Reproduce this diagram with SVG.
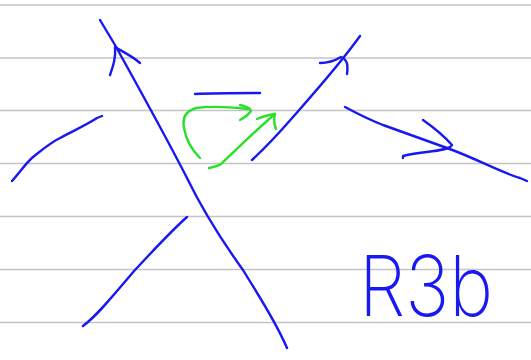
<svg xmlns="http://www.w3.org/2000/svg" width="531" height="360" viewBox="0 0 531 360">
<style>
.rule{stroke:#c4c4c4;stroke-width:1.5}
.b{fill:none;stroke:#1818f0;stroke-width:2.4;stroke-linecap:round;stroke-linejoin:round}
.g{fill:none;stroke:#2be02b;stroke-width:2.4;stroke-linecap:round;stroke-linejoin:round}
.t{font-family:"Inter","Lato","DejaVu Sans",sans-serif;font-weight:200;font-size:84px;fill:#1818f0}
</style>
<rect width="531" height="360" fill="#ffffff"/>
<g id="paper">
<line class="rule" x1="0" y1="5" x2="531" y2="5"/>
<line class="rule" x1="0" y1="58" x2="531" y2="58"/>
<line class="rule" x1="0" y1="110.5" x2="531" y2="110.5"/>
<line class="rule" x1="0" y1="163.5" x2="531" y2="163.5"/>
<line class="rule" x1="0" y1="216.5" x2="531" y2="216.5"/>
<line class="rule" x1="0" y1="269.5" x2="531" y2="269.5"/>
<line class="rule" x1="0" y1="322.5" x2="531" y2="322.5"/>
</g>
<g id="connectors">
<path class="b" d="M100,20 L115,45 C140,90 165,135 187,178 C205,215 225,245 243,270 C260,298 275,320 287,348"/>
<path class="b" d="M110,75 C113,66 116,58 115,47 C123,52 132,56 140,63"/>
<path class="b" d="M83,326 C100,313 115,293 135,270 C152,252 170,232 187,217"/>
<path class="b" d="M12,181 C20,172 26,163 33,157 C43,149 50,143 60,138 C75,130 88,124 97,118 L102,116"/>
<path class="b" d="M252,160 C265,148 280,132 293,117 C315,92 340,64 360,36"/>
<path class="b" d="M320,63 C330,63 336,60 341,57 C348,60 348,66 347,74"/>
<path class="b" d="M345,107 C358,114 370,120 383,125 C405,133 425,140 447,148 C475,158 500,172 520,178 L527,181"/>
<path class="b" d="M423,120 C433,127 444,136 452,145 C449,152 420,151 403,156 L403,158"/>
<path class="b" d="M195,94 C215,93 240,93 260,93"/>
<path class="g" d="M200,158 C192,150 186,140 184,128 C182,118 186,111 196,108 C210,106 230,107 248,109"/>
<path class="g" d="M240,105 C245,106 250,108 251,111 C248,115 244,118 240,120"/>
<path class="g" d="M209,168 C214,167 218,166 221,164 C238,148 256,130 275,114"/>
<path class="g" d="M257,119 C263,116 269,115 275,114 C274,118 274,124 276,129"/>
</g>
<g id="label">
<text class="t" x="359" y="316" textLength="134" lengthAdjust="spacingAndGlyphs">R3b</text>
</g>
</svg>
